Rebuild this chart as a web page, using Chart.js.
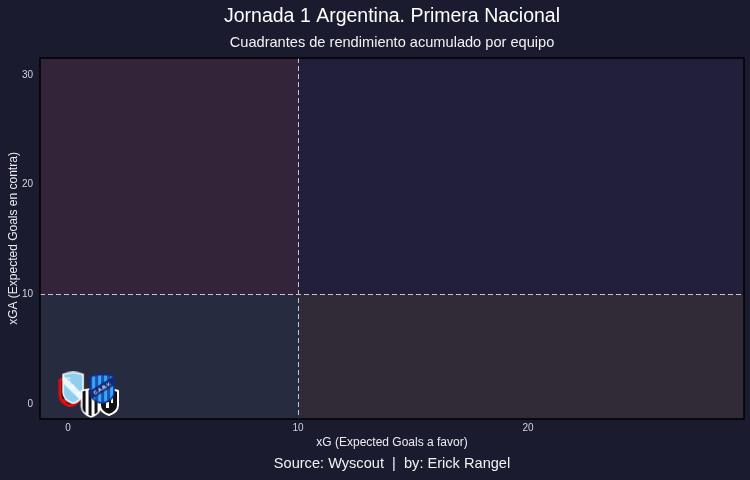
<!DOCTYPE html>
<html>
<head>
<meta charset="utf-8">
<script src="https://cdn.jsdelivr.net/npm/chart.js@4"></script>
<style>
  html, body { margin: 0; padding: 0; background: #1b1b2f; }
  #wrap { width: 750px; height: 480px; }
</style>
</head>
<body>
<div id="wrap"><canvas id="c" width="750" height="480"></canvas></div>
<script>
// ---- data ----
const teams = ['RN', 'CAT', 'BN1', 'BN2', 'CABV'];
const xg  = [0.09, 0.22, 1.00, 1.78, 1.48];
const xga = [1.09, 1.46, 0.09, 0.18, 1.37];
const xTicks = [0, 10, 20];
const yTicks = [0, 10, 20, 30];
const xLimits = [-1.22, 29.39];
const yLimits = [-1.37, 31.55];
const xSplit = 10;
const ySplit = 10;

const titleText = 'Jornada 1 Argentina. Primera Nacional';
const subtitleText = 'Cuadrantes de rendimiento acumulado por equipo';
const captionText = 'Source: Wyscout  |  by: Erick Rangel';
const xTitle = 'xG (Expected Goals a favor)';
const yTitle = 'xGA (Expected Goals en contra)';

const FONT = "'Liberation Sans', Arial, Helvetica, sans-serif";
Chart.defaults.font.family = FONT;

// ---- logo images (drawn badges) ----
function shieldPath(ctx, w, h) {
  ctx.beginPath();
  ctx.moveTo(2, 3);
  ctx.quadraticCurveTo(w / 2, -1, w - 2, 3);
  ctx.lineTo(w - 2, h * 0.62);
  ctx.quadraticCurveTo(w - 2, h * 0.86, w / 2, h - 1);
  ctx.quadraticCurveTo(2, h * 0.86, 2, h * 0.62);
  ctx.closePath();
}
function makeCanvas(w, h) {
  const c = document.createElement('canvas');
  c.width = w; c.height = h;
  return c;
}
function logoRedBlack() {
  const w = 24, h = 30, c = makeCanvas(w, h), ctx = c.getContext('2d');
  shieldPath(ctx, w, h);
  ctx.fillStyle = '#111'; ctx.fill();
  ctx.lineWidth = 3; ctx.strokeStyle = '#e01010'; ctx.stroke();
  ctx.fillStyle = '#e01010'; ctx.fillRect(4, 22, 16, 3);
  return c;
}
function logoCAT() {
  const w = 24, h = 33, c = makeCanvas(w, h), ctx = c.getContext('2d');
  shieldPath(ctx, w, h);
  ctx.fillStyle = '#8ecfee'; ctx.fill();
  ctx.save(); ctx.clip();
  ctx.strokeStyle = '#e8f6ff'; ctx.lineWidth = 6;
  ctx.beginPath(); ctx.moveTo(-2, 4); ctx.lineTo(w + 2, h - 2); ctx.stroke();
  ctx.restore();
  shieldPath(ctx, w, h);
  ctx.lineWidth = 1.5; ctx.strokeStyle = '#ffffff'; ctx.stroke();
  ctx.fillStyle = '#ffffff';
  ctx.font = "bold 7px " + FONT;
  ctx.textAlign = 'center'; ctx.textBaseline = 'middle';
  ctx.fillText('C', 7, 9);
  ctx.fillText('A', 12, 16);
  ctx.fillText('T', 17, 24);
  return c;
}
function logoBWStripes() {
  const w = 23, h = 30, c = makeCanvas(w, h), ctx = c.getContext('2d');
  shieldPath(ctx, w, h);
  ctx.fillStyle = '#ffffff'; ctx.fill();
  ctx.save(); ctx.clip();
  ctx.fillStyle = '#111';
  for (let x = 3; x < w; x += 6) ctx.fillRect(x, 0, 3, h);
  ctx.restore();
  shieldPath(ctx, w, h);
  ctx.lineWidth = 1.5; ctx.strokeStyle = '#ffffff'; ctx.stroke();
  return c;
}
function logoBWDark() {
  const w = 22, h = 28, c = makeCanvas(w, h), ctx = c.getContext('2d');
  shieldPath(ctx, w, h);
  ctx.fillStyle = '#111'; ctx.fill();
  ctx.lineWidth = 2; ctx.strokeStyle = '#ffffff'; ctx.stroke();
  ctx.fillStyle = '#ffffff';
  ctx.fillRect(8, 14, 3, 6);
  ctx.fillRect(13, 10, 2, 5);
  return c;
}
function logoCABV() {
  const w = 28, h = 31, c = makeCanvas(w, h), ctx = c.getContext('2d');
  shieldPath(ctx, w, h);
  ctx.fillStyle = '#1c4fb0'; ctx.fill();
  ctx.save(); ctx.clip();
  ctx.fillStyle = '#38a8f0';
  for (let x = 4; x < w; x += 6) ctx.fillRect(x, 0, 3, h);
  ctx.translate(w / 2, h / 2 - 1);
  ctx.rotate(-0.55);
  ctx.fillStyle = '#0f2a78';
  ctx.fillRect(-20, -4, 40, 8);
  ctx.fillStyle = '#ffffff';
  ctx.font = "bold 5px " + FONT;
  ctx.textAlign = 'center'; ctx.textBaseline = 'middle';
  ctx.fillText('C.A.B.V.', 0, 0.5);
  ctx.restore();
  shieldPath(ctx, w, h);
  ctx.lineWidth = 1.5; ctx.strokeStyle = '#0d2f8a'; ctx.stroke();
  return c;
}
const logos = [logoRedBlack(), logoCAT(), logoBWStripes(), logoBWDark(), logoCABV()];

// ---- plugins ----
const quadrantPlugin = {
  id: 'quadrants',
  beforeDatasetsDraw(chart) {
    const { ctx, chartArea: a, scales: { x, y } } = chart;
    const px = x.getPixelForValue(xSplit);
    const py = y.getPixelForValue(ySplit);
    ctx.save();
    ctx.fillStyle = '#33243a'; ctx.fillRect(a.left, a.top, px - a.left, py - a.top);
    ctx.fillStyle = '#221f3b'; ctx.fillRect(px, a.top, a.right - px, py - a.top);
    ctx.fillStyle = '#262b3f'; ctx.fillRect(a.left, py, px - a.left, a.bottom - py);
    ctx.fillStyle = '#312a37'; ctx.fillRect(px, py, a.right - px, a.bottom - py);
    ctx.setLineDash([5, 3]);
    ctx.strokeStyle = '#c4c4cc';
    ctx.lineWidth = 1;
    ctx.beginPath();
    ctx.moveTo(Math.round(px) + 0.5, a.top); ctx.lineTo(Math.round(px) + 0.5, a.bottom);
    ctx.moveTo(a.left, Math.round(py) + 0.5); ctx.lineTo(a.right, Math.round(py) + 0.5);
    ctx.stroke();
    ctx.setLineDash([]);
    ctx.strokeStyle = '#000000';
    ctx.lineWidth = 1.5;
    ctx.strokeRect(a.left, a.top, a.right - a.left, a.bottom - a.top);
    ctx.restore();
  }
};
const textPlugin = {
  id: 'texts',
  afterDraw(chart) {
    const { ctx, chartArea: a } = chart;
    const cx = (a.left + a.right) / 2;
    ctx.save();
    ctx.textAlign = 'center';
    ctx.textBaseline = 'middle';
    ctx.fillStyle = '#ffffff';
    ctx.font = "19.5px " + FONT;
    ctx.fillText(titleText, cx, 17);
    ctx.font = "14.6px " + FONT;
    ctx.fillStyle = '#f2f2f2';
    ctx.fillText(subtitleText, cx, 43);
    ctx.font = "14.6px " + FONT;
    ctx.fillStyle = '#f2f2f2';
    ctx.fillText(captionText, cx, 464);
    ctx.restore();
  }
};

new Chart(document.getElementById('c'), {
  type: 'scatter',
  data: {
    labels: teams,
    datasets: [{
      label: 'Equipos',
      data: xg.map((v, i) => ({ x: v, y: xga[i] })),
      pointStyle: logos,
      pointRadius: 1,
      pointHoverRadius: 1,
      pointBorderWidth: 0,
      clip: false
    }]
  },
  options: {
    responsive: false,
    animation: false,
    devicePixelRatio: 1,
    layout: { padding: { top: 58, right: 6, bottom: 30, left: 0 } },
    plugins: { legend: { display: false }, tooltip: { enabled: false } },
    scales: {
      x: {
        type: 'linear',
        min: xLimits[0], max: xLimits[1],
        grid: { display: false, drawTicks: false },
        border: { display: false },
        afterBuildTicks: s => { s.ticks = xTicks.map(v => ({ value: v })); },
        afterFit: s => { s.height = 31; s.paddingLeft = 0; s.paddingRight = 0; },
        ticks: { color: '#d0d2e0', font: { size: 10 }, padding: 3, maxRotation: 0 },
        title: { display: true, text: xTitle, color: '#ececf0', font: { size: 12 }, padding: { top: 2, bottom: 0 } }
      },
      y: {
        type: 'linear',
        min: yLimits[0], max: yLimits[1],
        grid: { display: false, drawTicks: false },
        border: { display: false },
        afterBuildTicks: s => { s.ticks = yTicks.map(v => ({ value: v })); },
        afterFit: s => { s.width = 40; s.paddingTop = 0; s.paddingBottom = 0; },
        ticks: { color: '#d0d2e0', font: { size: 10 }, padding: 7 },
        title: { display: true, text: yTitle, color: '#ececf0', font: { size: 12 }, padding: { top: 6, bottom: 0 } }
      }
    }
  },
  plugins: [quadrantPlugin, textPlugin]
});
</script>
</body>
</html>
